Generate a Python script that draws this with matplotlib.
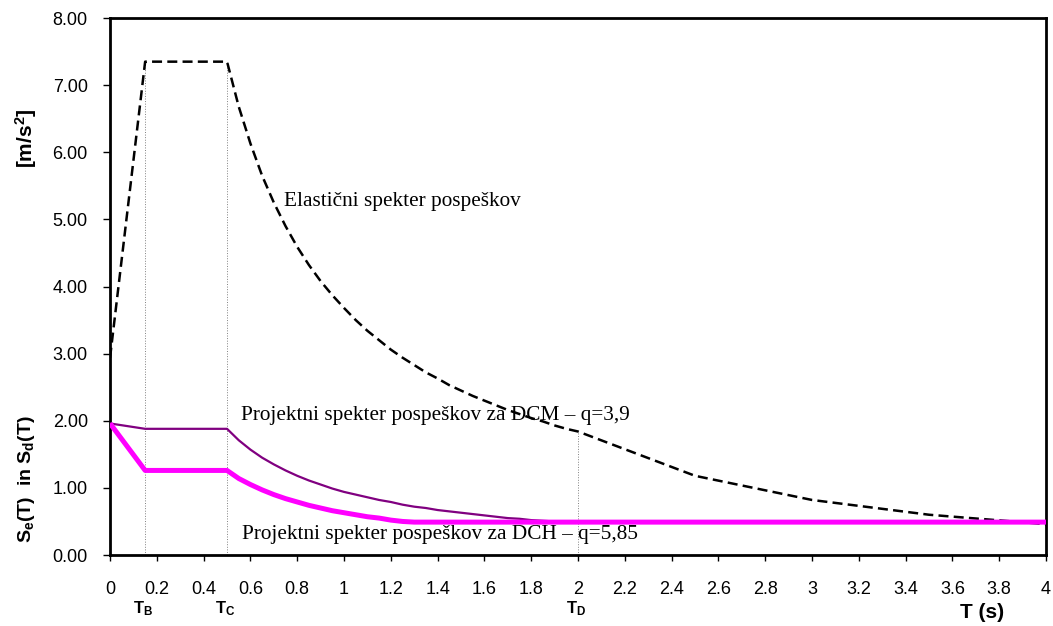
import matplotlib
matplotlib.use('Agg')
import matplotlib.pyplot as plt
from matplotlib.ticker import FormatStrFormatter

plt.rcParams['font.family'] = ['Liberation Sans', 'DejaVu Sans']
plt.rcParams['mathtext.fontset'] = 'custom'
plt.rcParams['mathtext.rm'] = 'Liberation Sans:bold'
plt.rcParams['mathtext.bf'] = 'Liberation Sans:bold'
plt.rcParams['mathtext.it'] = 'Liberation Sans:bold'

# periods (s)
T = [0.0, 0.15, 0.5, 0.55, 0.6, 0.65, 0.7, 0.75, 0.8, 0.85, 0.9, 0.95, 1.0, 1.05,
     1.1, 1.15, 1.2, 1.25, 1.3, 1.35, 1.4, 1.45, 1.5, 1.55, 1.6, 1.65, 1.7, 1.75,
     1.8, 1.85, 1.9, 1.95, 2.0, 2.5, 3.0, 3.5, 4.0]
# elastic spectrum [m/s2]
Se = [2.94, 7.35, 7.35, 6.68, 6.13, 5.65, 5.25, 4.90, 4.59, 4.32, 4.08, 3.87, 3.68,
      3.50, 3.34, 3.20, 3.06, 2.94, 2.83, 2.72, 2.63, 2.53, 2.45, 2.37, 2.30, 2.23,
      2.16, 2.10, 2.04, 1.99, 1.93, 1.88, 1.84, 1.18, 0.82, 0.60, 0.46]
# design spectrum DCM q=3,9
Sd_dcm = [1.96, 1.88, 1.88, 1.71, 1.57, 1.45, 1.35, 1.26, 1.18, 1.11, 1.05, 0.99,
          0.94, 0.90, 0.86, 0.82, 0.79, 0.75, 0.72, 0.70, 0.67, 0.65, 0.63, 0.61,
          0.59, 0.57, 0.55, 0.54, 0.52, 0.51, 0.50, 0.49, 0.49, 0.49, 0.49, 0.49, 0.49]
# design spectrum DCH q=5,85
Sd_dch = [1.96, 1.26, 1.26, 1.14, 1.05, 0.97, 0.90, 0.84, 0.79, 0.74, 0.70, 0.66,
          0.63, 0.60, 0.57, 0.55, 0.52, 0.50, 0.49, 0.49, 0.49, 0.49, 0.49, 0.49,
          0.49, 0.49, 0.49, 0.49, 0.49, 0.49, 0.49, 0.49, 0.49, 0.49, 0.49, 0.49, 0.49]

# corner periods
corner_names = ['B', 'C', 'D']
corner_T = [0.15, 0.5, 2.0]
corner_top = [7.35, 7.35, 1.84]

fig = plt.figure(figsize=(10.53, 6.26), dpi=100)
ax = fig.add_axes([0.1045, 0.1134, 0.8889, 0.8578])

for t, top in zip(corner_T, corner_top):
    ax.plot([t, t], [0, top], color='#808080', lw=0.7, ls=':', zorder=1)

ax.plot(T, Se, color='black', lw=1.8, ls=(0, (4.0, 2.1)), zorder=3)
ax.plot(T, Sd_dcm, color='#800080', lw=1.6, zorder=3)
ax.plot(T, Sd_dch, color='#FF00FF', lw=3.6, zorder=4, solid_capstyle='butt')

ax.set_xlim(0, 4)
ax.set_ylim(0, 8)
ax.set_xticks([i * 0.2 for i in range(21)])
ax.set_xticklabels(['%g' % round(i * 0.2, 1) for i in range(21)])
ax.set_yticks(range(9))
ax.yaxis.set_major_formatter(FormatStrFormatter('%.2f'))
ax.tick_params(axis='x', direction='out', length=4, width=1, pad=15, labelsize=13)
ax.tick_params(axis='y', direction='out', length=5, width=1, pad=11, labelsize=13)
for s in ax.spines.values():
    s.set_linewidth(2)

serif = ['Liberation Serif', 'DejaVu Serif']
ax.text(0.745, 5.26, 'Elastični spekter pospeškov', family=serif, fontsize=15.3,
        va='center', ha='left')
ax.text(0.56, 2.08, 'Projektni spekter pospeškov za DCM – q=3,9', family=serif,
        fontsize=15.3, va='center', ha='left')
ax.text(0.565, 0.3, 'Projektni spekter pospeškov za DCH – q=5,85', family=serif,
        fontsize=15.3, va='center', ha='left')

for name, t in zip(corner_names, corner_T):
    ax.text(t - 0.01, -0.8, r'$\mathbf{T_%s}$' % name, fontsize=12,
            ha='center', va='center')

fig.text(0.933, 0.022, 'T (s)', fontsize=15, fontweight='bold', ha='center', va='center')
fig.text(0.025, 0.78, '[m/s$^2$]', fontsize=15, fontweight='bold', rotation=90,
         ha='center', va='center')
fig.text(0.025, 0.235, r'S$_e$(T)  in S$_d$(T)', fontsize=14, fontweight='bold',
         rotation=90, ha='center', va='center')

fig.savefig('out.png', dpi=100)
